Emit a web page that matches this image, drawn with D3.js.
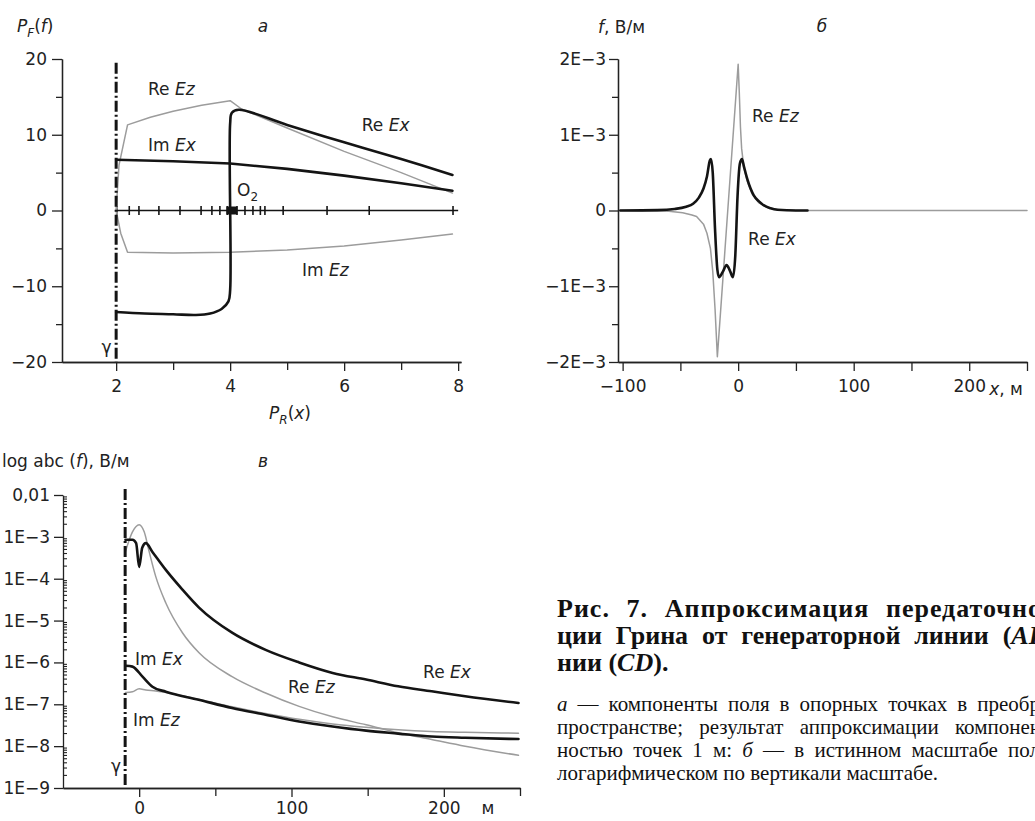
<!DOCTYPE html>
<html lang="ru">
<head>
<meta charset="UTF-8">
<title>Рис. 7. Аппроксимация передаточной функции Грина</title>
<script src="https://cdn.jsdelivr.net/npm/d3@7"></script>
<style>
  body { margin: 0; background: #fff; overflow: hidden; }
  svg { display: block; background: #fff; }
  .lbl { font-family: "DejaVu Sans", sans-serif; font-size: 17px; fill: #222; }
  .axis text { font-family: "DejaVu Sans", sans-serif; font-size: 17px; fill: #222; }
  .axis path, .axis line { stroke: #222; stroke-width: 1.3; }
  .cap { font-family: "Liberation Serif", "Times New Roman", serif; fill: #111; }
</style>
</head>
<body>
<svg id="fig" width="1035" height="821"></svg>
<script>
// ---------- panel а: components at reference points, transformed space ----------
const aTicksMajorX = [2, 4, 6, 8];
const aTicksMinorX = [3, 5, 7];
const aTicksMajorY = [-20, -10, 0, 10, 20];
const aTicksMinorY = [-15, -5, 5, 15];
const aGamma = 2;
// reference points along P_R(x), marked on the zero line
const aRefPoints = [2.01, 2.23, 2.40, 2.75, 3.12, 3.49, 3.68, 3.82, 3.95, 4.12, 4.26, 4.40, 4.53, 4.61, 4.93, 5.70, 6.44, 7.91];
const aOrigin = 4.03;
const aReEx = [[2.0, -13.4], [2.5, -13.6], [3.0, -13.7], [3.4, -13.8], [3.65, -13.6], [3.85, -13.0], [3.97, -12.0], [4.0, -10.5], [4.0, 11.5], [4.03, 12.9], [4.15, 13.3], [5, 11.3], [6, 9.0], [7, 6.8], [7.9, 4.7]];
const aImEx = [[2.0, 6.7], [3, 6.5], [4, 6.2], [5, 5.5], [6, 4.6], [7, 3.6], [7.9, 2.6]];
const aReEz = [[2.0, 0], [2.05, 6], [2.2, 11.3], [2.6, 12.3], [3.0, 13.1], [3.5, 13.9], [4.0, 14.5], [4.2, 13.4], [5, 10.9], [6, 7.8], [7, 5.0], [7.9, 2.3]];
const aImEz = [[2.0, 0], [2.08, -3], [2.2, -5.5], [3, -5.6], [4, -5.5], [5, -5.2], [6, -4.7], [7, -3.9], [7.9, -3.1]];

// ---------- panel б: true scale, V/m (values in 1E-3) ----------
const bTicksMajorX = [-100, 0, 100, 200];
const bTicksMinorX = [-50, 50, 150, 250];
const bTicksMajorY = [-2e-3, -1e-3, 0, 1e-3, 2e-3];
const bTicksMinorY = [-1.5e-3, -0.5e-3, 0.5e-3, 1.5e-3];
const bTickLabelsY = ['\u22122E\u22123', '\u22121E\u22123', '0', '1E\u22123', '2E\u22123'];
const bReEx = [[-102, 0], [-70, 0.005], [-55, 0.02], [-45, 0.05], [-39, 0.09], [-34, 0.17], [-30, 0.29], [-27, 0.45], [-24.5, 0.66], [-23.5, 0.68], [-22, 0.5], [-20, -0.25], [-18, -0.78], [-16.5, -0.88], [-13, -0.8], [-10, -0.72], [-7, -0.8], [-4.5, -0.88], [-2.5, -0.6], [-0.5, 0.2], [1.5, 0.62], [3.3, 0.68], [5, 0.58], [8, 0.41], [13.5, 0.2], [18, 0.12], [22, 0.07], [28, 0.03], [34, 0.01], [50, 0], [60, 0]];
const bReEz = [[-102, 0], [-60, -0.01], [-48, -0.03], [-40, -0.06], [-36, -0.08], [-30, -0.18], [-27, -0.3], [-24, -0.5], [-22, -0.8], [-20, -1.3], [-18, -1.93], [0, 1.93], [1, 1.55], [2, 1.1], [3, 0.82], [5, 0.56], [8, 0.38], [12, 0.22], [18, 0.1], [25, 0.04], [35, 0.01], [50, 0], [250, 0]];

// ---------- panel в: logarithmic vertical scale (values are log10 of |f|) ----------
const vTicksMajorX = [0, 100, 200];
const vTicksMinorX = [50, 150, 250];
const vDecades = [-9, -8, -7, -6, -5, -4, -3, -2];
const vTickLabelsY = ['1E\u22129', '1E\u22128', '1E\u22127', '1E\u22126', '1E\u22125', '1E\u22124', '1E\u22123', '0,01'];
const vGamma = -9.2;
const vReEx = [[-9, -3.07], [-4.4, -3.07], [-2, -3.15], [0, -3.72], [2, -3.26], [4.4, -3.15], [8.7, -3.36], [17.5, -3.79], [28.4, -4.26], [39.3, -4.69], [61, -5.29], [83, -5.70], [105, -6.0], [127, -6.25], [149, -6.41], [170, -6.57], [192, -6.69], [214, -6.81], [249, -6.97]];
const vReEz = [[-9, -3.35], [-4.4, -2.88], [0, -2.71], [3.3, -2.88], [6.6, -3.36], [10.9, -3.95], [17.5, -4.58], [28.4, -5.29], [39.3, -5.77], [61, -6.34], [83, -6.73], [105, -7.05], [127, -7.30], [149, -7.49], [170, -7.68], [192, -7.84], [214, -8.0], [249, -8.22]];
const vImEx = [[-9, -6.08], [-4.4, -6.1], [2.2, -6.34], [8.7, -6.58], [17.5, -6.70], [39, -6.89], [61, -7.09], [83, -7.25], [105, -7.41], [127, -7.53], [149, -7.63], [170, -7.70], [192, -7.77], [214, -7.80], [249, -7.83]];
const vImEz = [[-9, -6.72], [-4.4, -6.70], [0, -6.63], [4.4, -6.66], [10.9, -6.68], [17.5, -6.72], [39, -6.88], [61, -7.06], [83, -7.22], [105, -7.36], [127, -7.47], [149, -7.55], [170, -7.61], [192, -7.65], [214, -7.67], [249, -7.69]];

// ---------- caption ----------
const capTitle = [
  [['Рис. 7. Аппроксимация передаточно', '']],
  [['ции Грина от генераторной линии (', ''], ['AB', 'i']],
  [['нии (', ''], ['CD', 'i'], [').', '']]
];
const capBody = [
  [['а', 'i'], [' — компоненты поля в опорных точках в преобр', '']],
  [['пространстве; результат аппроксимации компонен', '']],
  [['ностью точек 1 м: ', ''], ['б', 'i'], [' — в истинном масштабе пол', '']],
  [['логарифмическом по вертикали масштабе.', '']]
];

const BLACK = '#141414', GRAY = '#9c9c9c';
const svg = d3.select('#fig');

// text with italic / subscript parts
function rich(x, y, parts, anchor) {
  const t = svg.append('text').attr('class', 'lbl')
    .attr('x', x).attr('y', y).attr('text-anchor', anchor || 'start');
  let shift = 0;
  parts.forEach(([s, k]) => {
    const ts = t.append('tspan').text(s);
    if (k.includes('i')) ts.style('font-style', 'italic');
    if (k.includes('s')) { ts.attr('dy', 5 - shift).style('font-size', '12px'); shift = 5; }
    else if (shift) { ts.attr('dy', -shift); shift = 0; }
  });
  return t;
}

function line(data, xs, ys, color, width, curve) {
  svg.append('path').datum(data)
    .attr('fill', 'none').attr('stroke', color).attr('stroke-width', width)
    .attr('stroke-linejoin', 'round').attr('stroke-linecap', 'round')
    .attr('d', d3.line().x(d => xs(d[0])).y(d => ys(d[1])).curve(curve || d3.curveLinear));
}

function dashDot(x, y0, y1) {
  svg.append('line').attr('x1', x).attr('x2', x).attr('y1', y0).attr('y2', y1)
    .attr('stroke', BLACK).attr('stroke-width', 3).attr('stroke-dasharray', '11,3,2,3');
}

function axisGroup(tx, ty) {
  return svg.append('g').attr('class', 'axis').attr('transform', `translate(${tx},${ty})`);
}

// ================= panel а =================
const xA = d3.scaleLinear().domain([1.05, 8.05]).range([62, 461]);
const yA = d3.scaleLinear().domain([-20, 20]).range([362, 59]);

axisGroup(0, 362).call(d3.axisBottom(xA).tickValues(aTicksMajorX).tickSize(9).tickSizeOuter(0).tickPadding(9).tickFormat(d3.format('d')));
axisGroup(0, 362).call(d3.axisBottom(xA).tickValues(aTicksMinorX).tickSize(8).tickSizeOuter(0).tickFormat(''));
axisGroup(62, 0).call(d3.axisLeft(yA).tickValues(aTicksMajorY).tickSize(10).tickSizeOuter(0).tickPadding(5)
  .tickFormat(d => d < 0 ? '\u2212' + Math.abs(d) : d));
axisGroup(62, 0).call(d3.axisLeft(yA).tickValues(aTicksMinorY).tickSize(6).tickSizeOuter(0).tickFormat(''));

// zero line with reference points
svg.append('line').attr('x1', xA(aGamma)).attr('x2', xA(8)).attr('y1', yA(0)).attr('y2', yA(0))
  .attr('stroke', BLACK).attr('stroke-width', 1.6);
svg.selectAll('.ref').data(aRefPoints).enter().append('line').attr('class', 'ref')
  .attr('x1', d => xA(d)).attr('x2', d => xA(d))
  .attr('y1', yA(0) - 4.5).attr('y2', yA(0) + 4.5)
  .attr('stroke', BLACK).attr('stroke-width', 1.6);

line(aReEz, xA, yA, GRAY, 1.5);
line(aImEz, xA, yA, GRAY, 1.5);
line(aImEx, xA, yA, BLACK, 2.6);
line(aReEx, xA, yA, BLACK, 2.6, d3.curveCatmullRom.alpha(0.5));

svg.append('rect').attr('x', xA(aOrigin) - 5.5).attr('y', yA(0) - 4).attr('width', 11).attr('height', 8).attr('fill', BLACK);
dashDot(xA(aGamma), yA(19.5), yA(-20));

rich(17, 32, [['P', 'i'], ['F', 'is'], ['(', ''], ['f', 'i'], [')', '']]);
rich(263, 32, [['а', 'i']], 'middle');
rich(xA(2.56), yA(15.2), [['Re ', ''], ['Ez', 'i']]);
rich(xA(2.56), yA(7.85), [['Im ', ''], ['Ex', 'i']]);
rich(xA(6.31), yA(10.5), [['Re ', ''], ['Ex', 'i']]);
rich(xA(5.26), yA(-8.6), [['Im ', ''], ['Ez', 'i']]);
rich(xA(4.12), yA(1.9), [['O', ''], ['2', 's']]);
rich(xA(1.92), yA(-18.8), [['γ', '']], 'end');
rich(290, 419, [['P', 'i'], ['R', 'is'], ['(', ''], ['x', 'i'], [')', '']], 'middle');

// ================= panel б =================
const xB = d3.scaleLinear().domain([-104, 250]).range([618, 1027]);
const yB = d3.scaleLinear().domain([-2e-3, 2e-3]).range([362, 59]);

axisGroup(0, 362).call(d3.axisBottom(xB).tickValues(bTicksMajorX).tickSize(9).tickSizeOuter(0).tickPadding(9)
  .tickFormat(d => d < 0 ? '\u2212' + Math.abs(d) : d));
axisGroup(0, 362).call(d3.axisBottom(xB).tickValues(bTicksMinorX).tickSize(9).tickSizeOuter(0).tickFormat(''));
axisGroup(618, 0).call(d3.axisLeft(yB).tickValues(bTicksMajorY).tickSize(9).tickSizeOuter(0).tickPadding(3)
  .tickFormat((d, i) => bTickLabelsY[i]));
axisGroup(618, 0).call(d3.axisLeft(yB).tickValues(bTicksMinorY).tickSize(6).tickSizeOuter(0).tickFormat(''));

line(bReEz, xB, d => yB(d * 1e-3), GRAY, 1.5);
line(bReEx, xB, d => yB(d * 1e-3), BLACK, 2.6, d3.curveMonotoneX);

rich(598, 33, [['f', 'i'], [', В/м', '']]);
rich(822, 32, [['б', 'i']], 'middle');
rich(xB(12), yB(1.17e-3), [['Re ', ''], ['Ez', 'i']]);
rich(xB(8.6), yB(-0.45e-3), [['Re ', ''], ['Ex', 'i']]);
rich(xB(200) + 20, 395, [['x', 'i'], [', м', '']]);

// ================= panel в =================
const xV = d3.scaleLinear().domain([-50, 250]).range([63, 520]);
const yV = d3.scaleLog().domain([1e-9, 1e-2]).range([788, 495]);
const lv = d => yV(Math.pow(10, d));

axisGroup(0, 788).call(d3.axisBottom(xV).tickValues(vTicksMajorX).tickSize(9).tickSizeOuter(0).tickPadding(5).tickFormat(d3.format('d')));
axisGroup(0, 788).call(d3.axisBottom(xV).tickValues(vTicksMinorX).tickSize(8).tickSizeOuter(0).tickFormat(''));
axisGroup(63, 0).call(d3.axisLeft(yV).tickValues(vDecades.map(k => Math.pow(10, k))).tickSize(9).tickSizeOuter(0).tickPadding(4)
  .tickFormat((d, i) => vTickLabelsY[i]));
// minor log ticks, inside the axis
const vMinor = [];
vDecades.slice(0, -1).forEach(k => { for (let m = 2; m <= 9; m++) vMinor.push(m * Math.pow(10, k)); });
svg.selectAll('.vmin').data(vMinor).enter().append('line').attr('class', 'vmin')
  .attr('x1', 63).attr('x2', 67).attr('y1', d => yV(d)).attr('y2', d => yV(d))
  .attr('stroke', '#222').attr('stroke-width', 1.1);

line(vReEz, xV, lv, GRAY, 1.5, d3.curveMonotoneX);
line(vImEz, xV, lv, GRAY, 1.5, d3.curveMonotoneX);
line(vImEx, xV, lv, BLACK, 2.6, d3.curveMonotoneX);
line(vReEx, xV, lv, BLACK, 2.6, d3.curveMonotoneX);
dashDot(xV(vGamma), yV(1.4e-2), yV(1e-9));

rich(2, 467, [['log abc (', ''], ['f', 'i'], ['), В/м', '']]);
rich(263, 467, [['в', 'i']], 'middle');
rich(xV(-2.7), lv(-6.05), [['Im ', ''], ['Ex', 'i']]);
rich(xV(97.7), lv(-6.72), [['Re ', ''], ['Ez', 'i']]);
rich(xV(186.4), lv(-6.37), [['Re ', ''], ['Ex', 'i']]);
rich(xV(-4), lv(-7.53), [['Im ', ''], ['Ez', 'i']]);
rich(xV(-11.9), lv(-8.61), [['γ', '']], 'end');
rich(488, 814, [['м', '']], 'middle');

// ================= caption (justified lines run past the right edge) =================
function capLine(parts, y, size, bold, target, letter) {
  const t = svg.append('text').attr('class', 'cap').attr('x', 557).attr('y', y)
    .style('font-size', size + 'px').style('font-weight', bold ? 'bold' : 'normal')
    .style('letter-spacing', (letter || 0) + 'px')
    .style('white-space', 'pre');
  parts.forEach(([s, k]) => {
    const ts = t.append('tspan').text(s);
    if (k.includes('i')) ts.style('font-style', 'italic');
  });
  if (target) {
    const natural = t.node().getComputedTextLength();
    const spaces = parts.map(p => p[0]).join('').split(' ').length - 1;
    if (spaces > 0) t.style('word-spacing', Math.max(0, (target - 557 - natural) / spaces) + 'px');
  }
}
const titleTargets = [1042, 1046, null];
const titleLetter = [1, 0, 0];
capTitle.forEach((p, i) => capLine(p, 617 + i * 27, 26, true, titleTargets[i], titleLetter[i]));
const bodyTargets = [1040, 1041, 1040, null];
capBody.forEach((p, i) => capLine(p, 711 + i * 23, 21, false, bodyTargets[i]));
</script>
</body>
</html>
